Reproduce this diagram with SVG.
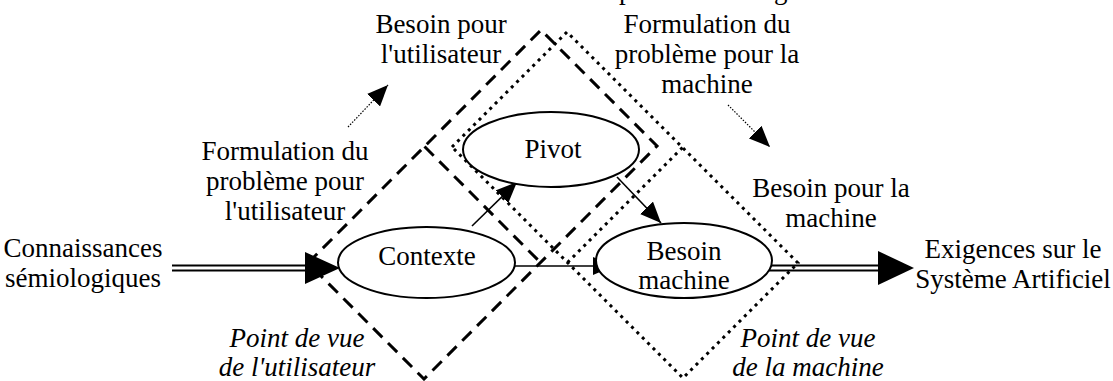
<svg xmlns="http://www.w3.org/2000/svg" width="1113" height="381" viewBox="0 0 1113 381" font-family="'Liberation Serif', Tinos, 'DejaVu Serif', serif">
  <style>
    text { font-family: 'Liberation Serif', Tinos, 'DejaVu Serif', serif; font-size: 27px; fill: #000; }
    .c { text-anchor: middle; }
    .it { font-style: italic; }
    .node { fill: #fff; stroke: #000; stroke-width: 2; }
    .dash { fill: none; stroke: #000; stroke-width: 3; stroke-dasharray: 13 8; }
    .dot { fill: none; stroke: #000; stroke-width: 3; stroke-dasharray: 3 4.6; }
    .link { fill: none; stroke: #000; stroke-width: 1.6; }
    .hint { fill: none; stroke: #000; stroke-width: 1.2; stroke-dasharray: 1.5 1.5; }
    .dbl { fill: none; stroke: #000; stroke-width: 2.2; }
  </style>
  <defs>
    <marker id="arrow" markerUnits="userSpaceOnUse" markerWidth="21" markerHeight="18" refX="21" refY="9" orient="auto">
      <path d="M0,0 L21,9 L0,18 z" fill="#000"/>
    </marker>
  </defs>
  <rect width="1113" height="381" fill="#fff"/>

  <!-- descenders of the line above, cut by the frame -->
  <text x="619" y="-1.5">p</text>
  <text x="774" y="-1.5">g</text>

  <!-- points of view: two rotated frames, each split into two squares -->
  <g id="view-user">
    <polygon class="dash" points="308,263 541,30 657,146 424,379"/>
    <line class="dash" x1="424.5" y1="146.5" x2="540.5" y2="262.5"/>
  </g>
  <g id="view-machine">
    <polygon class="dot" points="452,147 567,32 798,263 683,378"/>
    <line class="dot" x1="682.5" y1="147.5" x2="567.5" y2="262.5"/>
  </g>

  <!-- connectors -->
  <g id="connectors">
    <line class="dbl" x1="172" y1="265.5" x2="306" y2="265.5"/>
    <line class="dbl" x1="172" y1="270.5" x2="306" y2="270.5"/>
    <polygon points="305,252 305,284 340,268" fill="#000"/>

    <line class="dbl" x1="757" y1="265.5" x2="879" y2="265.5"/>
    <line class="dbl" x1="757" y1="270.5" x2="879" y2="270.5"/>
    <polygon points="878,251 878,285 914,268" fill="#000"/>

    <line class="link" x1="515" y1="266" x2="614" y2="266" marker-end="url(#arrow)"/>
    <line class="link" x1="472" y1="226" x2="517" y2="182" marker-end="url(#arrow)"/>
    <line class="link" x1="617" y1="177" x2="661" y2="223" marker-end="url(#arrow)"/>

    <line class="hint" x1="348" y1="127" x2="388" y2="85" marker-end="url(#arrow)"/>
    <line class="hint" x1="728" y1="105" x2="770" y2="147" marker-end="url(#arrow)"/>
  </g>

  <!-- nodes -->
  <g id="pivot">
    <ellipse class="node" cx="551" cy="149.5" rx="88" ry="37.5"/>
    <text class="c" x="553" y="158">Pivot</text>
  </g>
  <g id="contexte">
    <ellipse class="node" cx="426.5" cy="262.5" rx="88.5" ry="35.5"/>
    <text class="c" x="427" y="265">Contexte</text>
  </g>
  <g id="besoin-machine">
    <ellipse class="node" cx="684" cy="260.5" rx="88" ry="37.5"/>
    <text class="c" x="684" y="260">Besoin</text>
    <text class="c" x="684" y="289">machine</text>
  </g>

  <!-- labels -->
  <g id="labels">
    <text class="c" x="83" y="257">Connaissances</text>
    <text class="c" x="83" y="287">sémiologiques</text>

    <text class="c" x="1013" y="258">Exigences sur le</text>
    <text class="c" x="1013" y="288">Système Artificiel</text>

    <text class="c" x="441" y="33">Besoin pour</text>
    <text class="c" x="441" y="63">l'utilisateur</text>

    <text class="c" x="707" y="33">Formulation du</text>
    <text class="c" x="707" y="63">problème pour la</text>
    <text class="c" x="707" y="93">machine</text>

    <text class="c" x="285" y="160">Formulation du</text>
    <text class="c" x="285" y="190">problème pour</text>
    <text class="c" x="285" y="220">l'utilisateur</text>

    <text class="c" x="831" y="197">Besoin pour la</text>
    <text class="c" x="831" y="227">machine</text>

    <text class="c it" x="297" y="347">Point de vue</text>
    <text class="c it" x="297" y="376">de l'utilisateur</text>

    <text class="c it" x="808" y="347">Point de vue</text>
    <text class="c it" x="808" y="376">de la machine</text>
  </g>
</svg>
